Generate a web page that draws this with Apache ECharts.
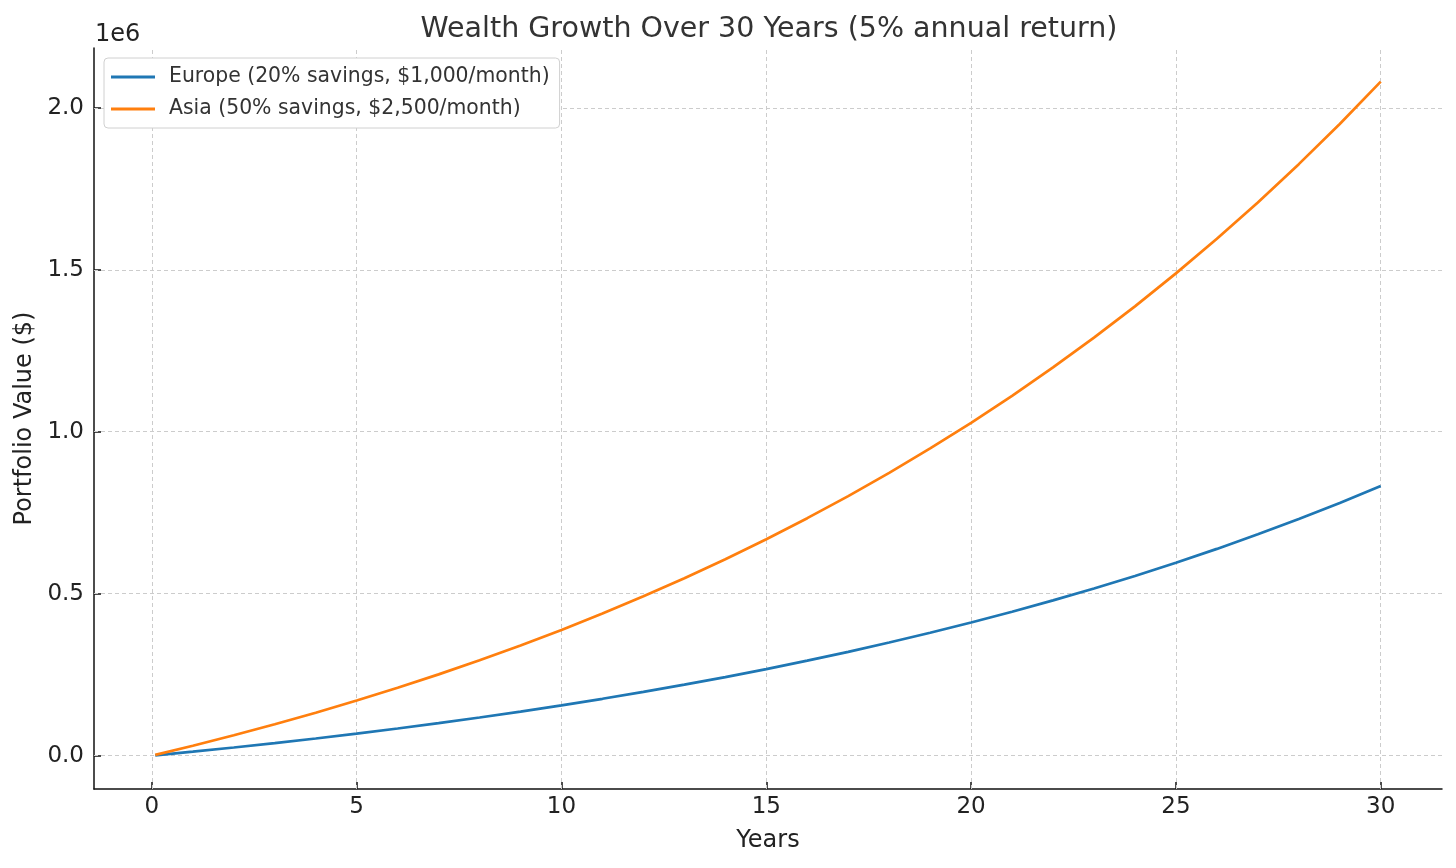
<!DOCTYPE html>
<html>
<head>
<meta charset="utf-8">
<script src="https://cdn.jsdelivr.net/npm/echarts@6/dist/echarts.min.js"></script>
<style>html,body{margin:0;padding:0;background:#fff}#c{width:1456px;height:868px}</style>
</head>
<body>
<div id="c"></div>
<script>
// Years (first point is month 1)
const years = [0.083, 1, 2, 3, 4, 5, 6, 7, 8, 9, 10, 11, 12, 13, 14, 15, 16, 17, 18, 19, 20, 21, 22, 23, 24, 25, 26, 27, 28, 29, 30];
// Portfolio value ($)
const europe = [1000, 12279, 25186, 38753, 53015, 68006, 83764, 100329, 117740, 136043, 155282, 175506, 196764, 219109, 242598, 267289, 293243, 320524, 349202, 379347, 411034, 444342, 479354, 516157, 554844, 595510, 638256, 683189, 730421, 780070, 832259];
const asia = [2500, 30698, 62965, 96883, 132538, 170015, 209410, 250823, 294350, 340108, 388205, 438765, 491910, 547773, 606495, 668223, 733108, 801310, 873005, 948368, 1027585, 1110855, 1198385, 1290393, 1387110, 1488775, 1595640, 1707973, 1826053, 1950175, 2080647];
const xTicks = [0, 5, 10, 15, 20, 25, 30];
const yTicks = [0, 500000, 1000000, 1500000, 2000000];
const seriesNames = ['Europe (20% savings, $1,000/month)', 'Asia (50% savings, $2,500/month)'];

const pairs = (ys) => years.map((x, i) => [x, ys[i]]);
const gridLines = xTicks.map(v => ({xAxis: v})).concat(yTicks.map(v => ({yAxis: v})));
const font = 'DejaVu Sans';

const chart = echarts.init(document.getElementById('c'), null, {renderer: 'canvas'});
chart.setOption({
  animation: false,
  textStyle: {fontFamily: font},
  title: {
    text: 'Wealth Growth Over 30 Years (5% annual return)',
    left: 764, top: 10, textAlign: 'center',
    textStyle: {fontFamily: font, fontSize: 28.5, fontWeight: 'normal', color: '#333'}
  },
  graphic: [{
    type: 'text', left: 95, top: 23,
    style: {text: '1e6', font: '24px "DejaVu Sans"', fill: '#222'}
  }],
  legend: {
    orient: 'vertical', left: 104, top: 58, z: 20,
    data: seriesNames,
    icon: 'rect', itemWidth: 44, itemHeight: 3, itemGap: 12,
    padding: [9, 10, 9, 7],
    backgroundColor: '#ffffff',
    borderColor: '#d0d0d0', borderWidth: 1, borderRadius: 4,
    textStyle: {fontFamily: font, fontSize: 20.4, color: '#333', padding: [0, 0, 0, 9]}
  },
  grid: {left: 94, right: 14, top: 48, bottom: 79, containLabel: false},
  xAxis: {
    type: 'value', min: -1.413, max: 31.496,
    name: 'Years', nameLocation: 'middle', nameGap: 40,
    nameTextStyle: {fontFamily: font, fontSize: 24, color: '#222'},
    axisLine: {show: true, onZero: false, lineStyle: {color: '#111', width: 1.5}},
    axisTick: {show: true, inside: true, length: 7, customValues: xTicks, lineStyle: {color: '#111', width: 1.5}},
    axisLabel: {customValues: xTicks, fontFamily: font, fontSize: 23, color: '#222', margin: 7},
    splitLine: {show: false}
  },
  yAxis: {
    type: 'value', min: -102982, max: 2184629,
    name: 'Portfolio Value ($)', nameLocation: 'middle', nameGap: 57,
    nameTextStyle: {fontFamily: font, fontSize: 24, color: '#222'},
    axisLine: {show: true, onZero: false, lineStyle: {color: '#111', width: 1.5}},
    axisTick: {show: true, inside: true, length: 7, customValues: yTicks, lineStyle: {color: '#111', width: 1.5}},
    axisLabel: {customValues: yTicks, fontFamily: font, fontSize: 23, color: '#222', margin: 10,
      padding: [4, 0, 0, 0],
      formatter: v => (v / 1e6).toFixed(1)},
    splitLine: {show: false}
  },
  series: [
    {
      type: 'line', name: '_grid', data: pairs(europe), z: 1, silent: true,
      showSymbol: false, lineStyle: {opacity: 0}, legendHoverLink: false,
      markLine: {
        silent: true, z: 1, symbol: ['none', 'none'], label: {show: false},
        lineStyle: {type: [4, 3], color: '#cccccc', width: 1},
        emphasis: {disabled: true},
        data: gridLines
      }
    },
    {
      type: 'line', name: seriesNames[0], data: pairs(europe), z: 3,
      showSymbol: false, smooth: false,
      itemStyle: {color: '#1f77b4'}, lineStyle: {color: '#1f77b4', width: 2.7}
    },
    {
      type: 'line', name: seriesNames[1], data: pairs(asia), z: 3,
      showSymbol: false, smooth: false,
      itemStyle: {color: '#ff7f0e'}, lineStyle: {color: '#ff7f0e', width: 2.7}
    }
  ]
});
</script>
</body>
</html>
